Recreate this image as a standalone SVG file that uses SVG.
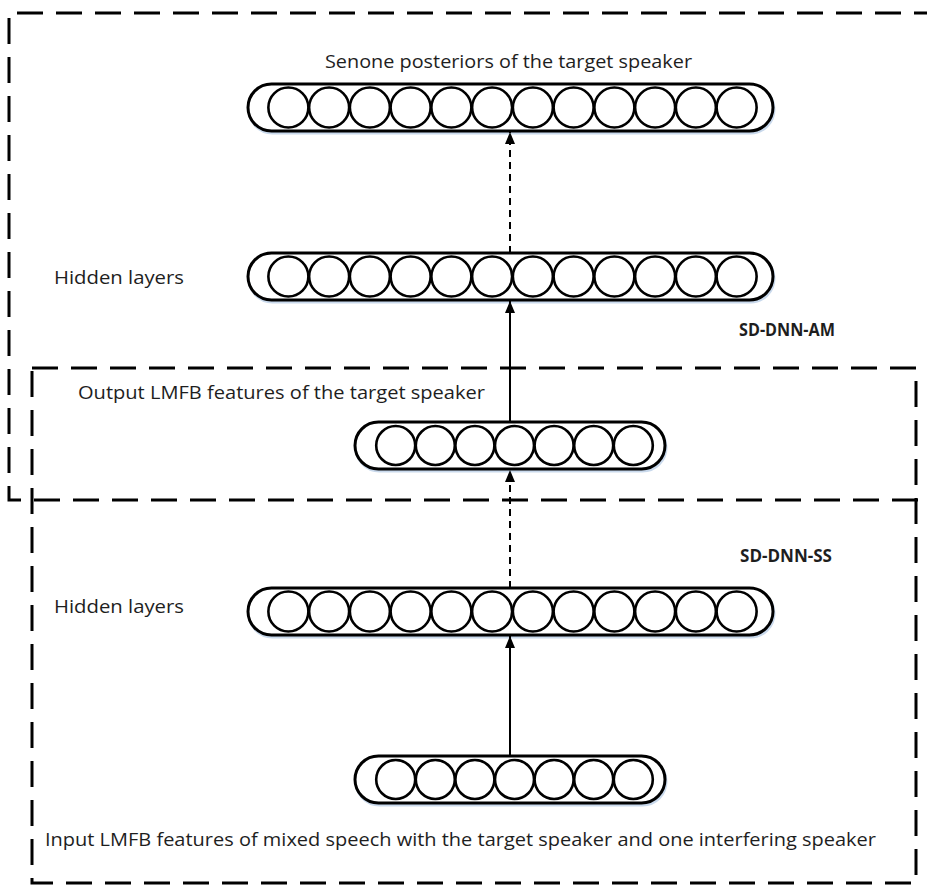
<svg xmlns="http://www.w3.org/2000/svg" width="927" height="887" viewBox="0 0 927 887">
<defs>
<style>
.bg{fill:#ffffff}
.box{fill:none;stroke:#000;stroke-width:3;stroke-dasharray:26 13}
.cap{fill:#fff;stroke:#000;stroke-width:3}
.shadow{fill:none;stroke:#c9d9ec;stroke-width:3}
.neu{fill:#fff;stroke:#000;stroke-width:2.6}
.solid{fill:none;stroke:#000;stroke-width:2}
.dash{fill:none;stroke:#000;stroke-width:2;stroke-dasharray:7 5}
.lbl{font-family:"Open Sans","Noto Sans","Liberation Sans",sans-serif;font-size:18px;fill:#1e1e1e}
.bold{font-family:"Open Sans","Noto Sans","Liberation Sans",sans-serif;font-size:17px;font-weight:bold;fill:#1e1e1e}
</style>
<marker id="ah" viewBox="0 0 12 10" refX="12" refY="5" markerWidth="12" markerHeight="10" markerUnits="userSpaceOnUse" orient="auto">
<path d="M0,0 L12,5 L0,10 z" fill="#000"/>
</marker>
<g id="c12">
<circle class="neu" cx="-224.125" cy="0" r="20"/>
<circle class="neu" cx="-183.375" cy="0" r="20"/>
<circle class="neu" cx="-142.625" cy="0" r="20"/>
<circle class="neu" cx="-101.875" cy="0" r="20"/>
<circle class="neu" cx="-61.125" cy="0" r="20"/>
<circle class="neu" cx="-20.375" cy="0" r="20"/>
<circle class="neu" cx="20.375" cy="0" r="20"/>
<circle class="neu" cx="61.125" cy="0" r="20"/>
<circle class="neu" cx="101.875" cy="0" r="20"/>
<circle class="neu" cx="142.625" cy="0" r="20"/>
<circle class="neu" cx="183.375" cy="0" r="20"/>
<circle class="neu" cx="224.125" cy="0" r="20"/>
</g>
<g id="c7">
<circle class="neu" cx="-118.8" cy="0" r="19.5"/>
<circle class="neu" cx="-79.2" cy="0" r="19.5"/>
<circle class="neu" cx="-39.6" cy="0" r="19.5"/>
<circle class="neu" cx="0" cy="0" r="19.5"/>
<circle class="neu" cx="39.6" cy="0" r="19.5"/>
<circle class="neu" cx="79.2" cy="0" r="19.5"/>
<circle class="neu" cx="118.8" cy="0" r="19.5"/>
</g>
</defs>
<rect class="bg" x="0" y="0" width="927" height="887"/>

<g id="box-am">
<path class="box" d="M940,13 H9 V500 H920"/>
</g>
<g id="box-ss">
<path class="box" d="M32,368 H916 V883 H32 Z"/>
</g>

<g id="senone-layer">
<rect class="shadow" x="249" y="86" width="525" height="47" rx="23.5"/>
<rect class="cap" x="248" y="84" width="525" height="47" rx="23.5"/>
<use href="#c12" x="512.5" y="107.5"/>
<text class="lbl" x="325" y="68" textLength="367" lengthAdjust="spacingAndGlyphs">Senone posteriors of the target speaker</text>
</g>

<g id="hidden-am">
<rect class="shadow" x="249" y="255" width="525" height="47" rx="23.5"/>
<rect class="cap" x="248" y="253" width="525" height="47" rx="23.5"/>
<use href="#c12" x="512.5" y="276.5"/>
<text class="lbl" x="54" y="284" textLength="130" lengthAdjust="spacingAndGlyphs">Hidden layers</text>
</g>

<g id="output-lmfb">
<rect class="shadow" x="356" y="424" width="310" height="47" rx="23.5"/>
<rect class="cap" x="355" y="422" width="310" height="47" rx="23.5"/>
<use href="#c7" x="514.5" y="445.5"/>
<text class="lbl" x="78" y="399" textLength="407" lengthAdjust="spacingAndGlyphs">Output LMFB features of the target speaker</text>
</g>

<g id="hidden-ss">
<rect class="shadow" x="249" y="590" width="525" height="47" rx="23.5"/>
<rect class="cap" x="248" y="588" width="525" height="47" rx="23.5"/>
<use href="#c12" x="512.5" y="611.5"/>
<text class="lbl" x="54" y="613" textLength="130" lengthAdjust="spacingAndGlyphs">Hidden layers</text>
</g>

<g id="input-lmfb">
<rect class="shadow" x="356" y="758" width="310" height="47" rx="23.5"/>
<rect class="cap" x="355" y="756" width="310" height="47" rx="23.5"/>
<use href="#c7" x="514.5" y="779.5"/>
<text class="lbl" x="45" y="846" textLength="831" lengthAdjust="spacingAndGlyphs">Input LMFB features of mixed speech with the target speaker and one interfering speaker</text>
</g>

<g id="labels">
<text class="bold" x="739" y="336" textLength="96" lengthAdjust="spacingAndGlyphs">SD-DNN-AM</text>
<text class="bold" x="740" y="562" textLength="92" lengthAdjust="spacingAndGlyphs">SD-DNN-SS</text>
</g>

<g id="connectors">
<line class="dash" x1="510" y1="253" x2="510" y2="132" marker-end="url(#ah)"/>
<line class="solid" x1="510" y1="422" x2="510" y2="301" marker-end="url(#ah)"/>
<line class="dash" x1="510" y1="588" x2="510" y2="470" marker-end="url(#ah)"/>
<line class="solid" x1="510" y1="756" x2="510" y2="636" marker-end="url(#ah)"/>
</g>
</svg>
